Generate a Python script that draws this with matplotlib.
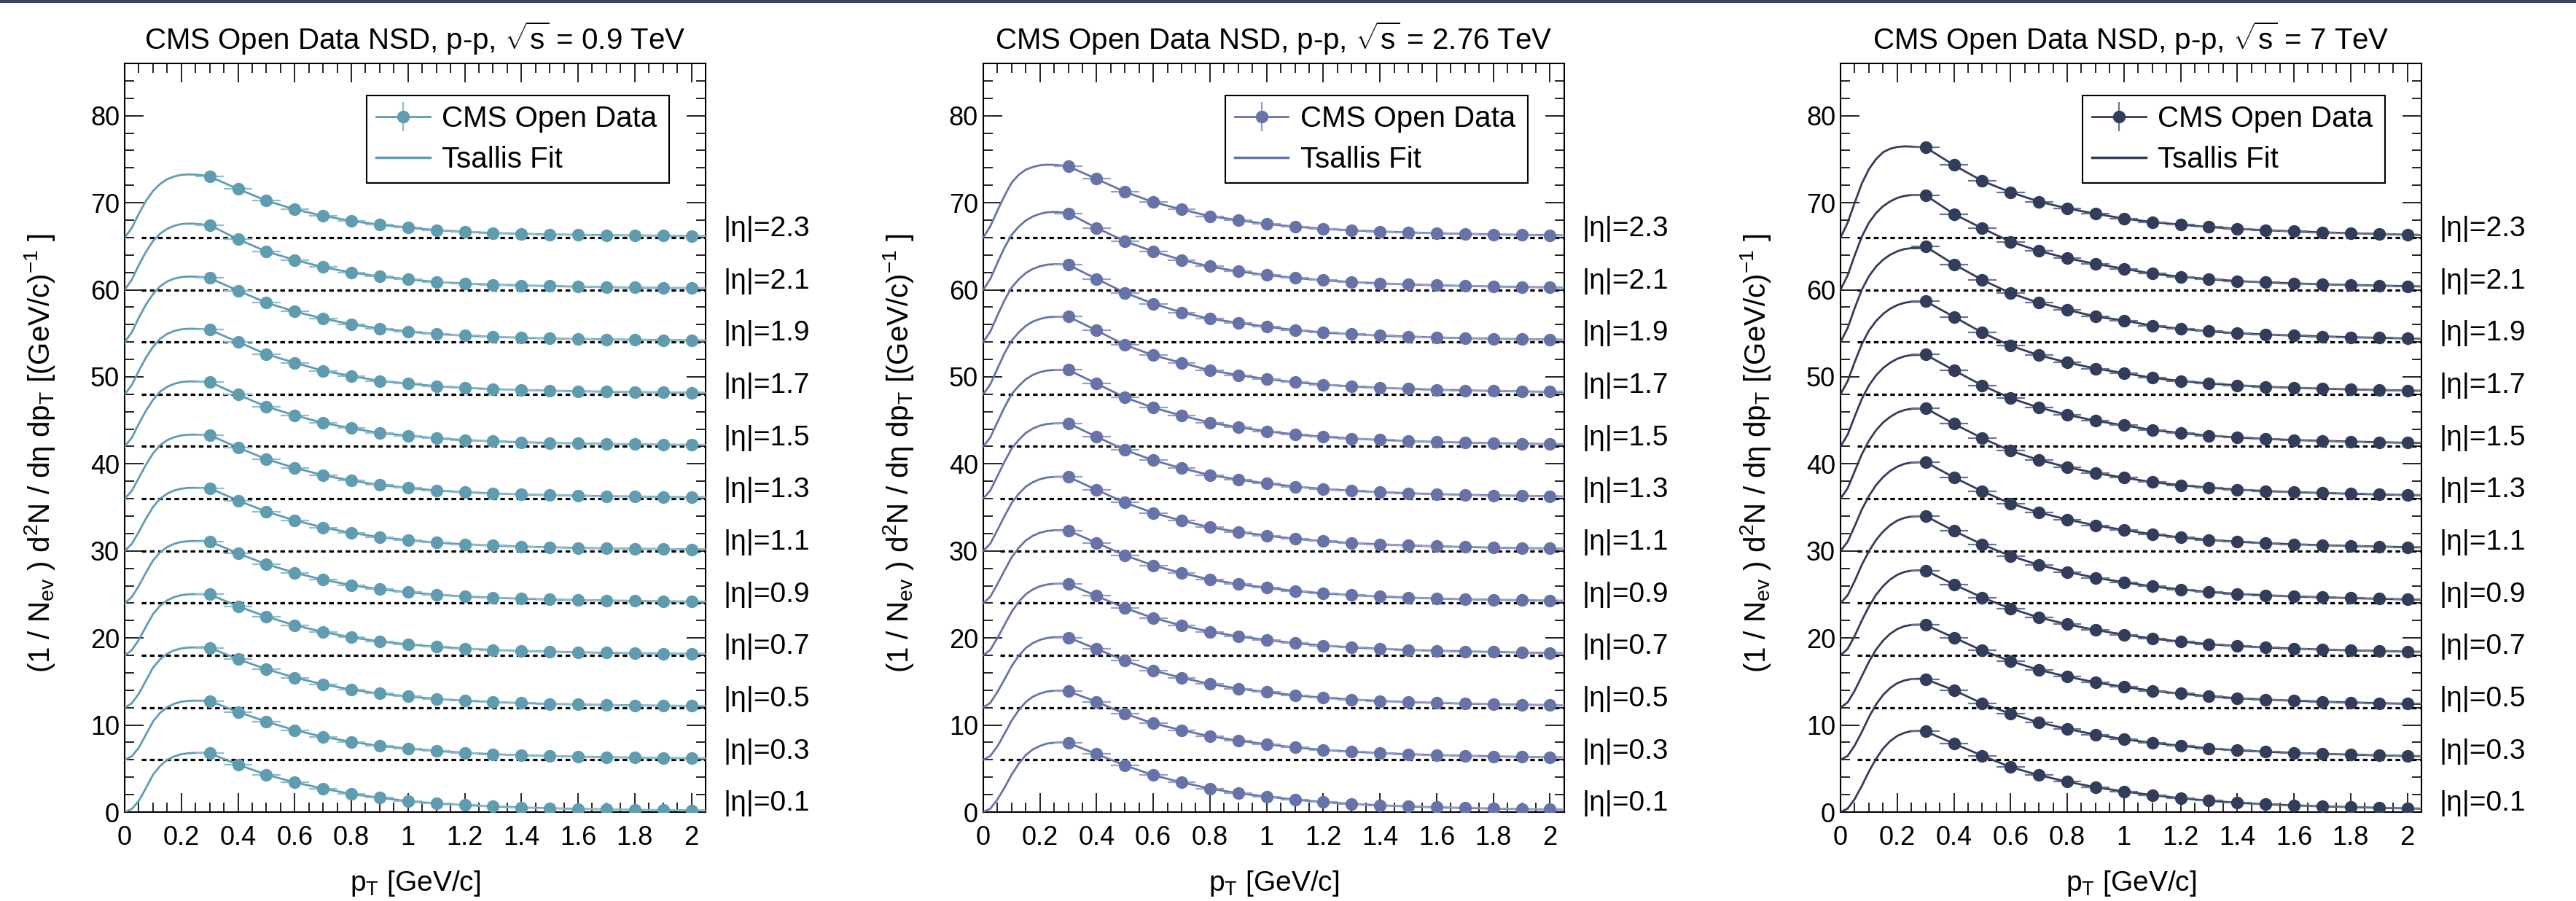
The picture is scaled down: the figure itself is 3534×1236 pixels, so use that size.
import matplotlib
matplotlib.use('Agg')
import matplotlib.pyplot as plt
import matplotlib.ticker as mticker
from matplotlib.lines import Line2D
from matplotlib.patches import Rectangle

plt.rcParams['font.family'] = ['Liberation Sans', 'DejaVu Sans']
plt.rcParams['mathtext.fontset'] = 'custom'
plt.rcParams['mathtext.rm'] = 'Liberation Sans'
plt.rcParams['mathtext.it'] = 'Liberation Sans:italic'
plt.rcParams['mathtext.bf'] = 'Liberation Sans:bold'

# measured pT bins (centres), half bin width
pt = [0.3, 0.4, 0.5, 0.6, 0.7, 0.8, 0.9, 1.0, 1.1, 1.2,
      1.3, 1.4, 1.5, 1.6, 1.7, 1.8, 1.9, 2.0]
pt_half = 0.05
# pT grid where the fit curve was read below the first bin
fit_pt_low = [0.0, 0.025, 0.05, 0.075, 0.1, 0.125, 0.15, 0.175, 0.2, 0.225, 0.25, 0.275]
fit_pt_end = 2.05

eta_labels = ['|η|=0.1', '|η|=0.3', '|η|=0.5', '|η|=0.7', '|η|=0.9', '|η|=1.1',
              '|η|=1.3', '|η|=1.5', '|η|=1.7', '|η|=1.9', '|η|=2.1', '|η|=2.3']
# vertical shift of each eta bin in the plot
offsets = [0, 6, 12, 18, 24, 30, 36, 42, 48, 54, 60, 66]

energies = ['0.9', '2.76', '7']
colors = ['#5f9cb0', '#6673a9', '#323c5b']
err_colors = ['#8fbccb', '#959ec8', '#6a7390']

# 0.9 TeV spectra, one row per eta bin
data_09 = [
    [6.76, 5.44, 4.30, 3.41, 2.71, 2.07, 1.65, 1.25, 1.00, 0.80, 0.65, 0.53, 0.44, 0.37, 0.31, 0.26, 0.22, 0.19],
    [6.76, 5.50, 4.39, 3.41, 2.65, 2.07, 1.60, 1.30, 1.02, 0.81, 0.65, 0.53, 0.44, 0.37, 0.31, 0.26, 0.22, 0.19],
    [6.88, 5.56, 4.42, 3.45, 2.68, 2.07, 1.61, 1.28, 1.00, 0.80, 0.64, 0.52, 0.43, 0.36, 0.30, 0.26, 0.22, 0.19],
    [7.00, 5.64, 4.45, 3.47, 2.69, 2.07, 1.61, 1.27, 0.98, 0.78, 0.63, 0.51, 0.43, 0.36, 0.30, 0.25, 0.21, 0.18],
    [7.10, 5.71, 4.48, 3.49, 2.70, 2.07, 1.60, 1.25, 0.97, 0.77, 0.62, 0.51, 0.42, 0.35, 0.30, 0.25, 0.21, 0.18],
    [7.20, 5.79, 4.51, 3.51, 2.70, 2.07, 1.59, 1.24, 0.95, 0.76, 0.61, 0.50, 0.42, 0.35, 0.29, 0.25, 0.21, 0.18],
    [7.30, 5.87, 4.54, 3.54, 2.70, 2.08, 1.57, 1.24, 0.94, 0.75, 0.60, 0.50, 0.41, 0.35, 0.29, 0.25, 0.21, 0.18],
    [7.40, 5.95, 4.58, 3.58, 2.71, 2.09, 1.55, 1.24, 0.93, 0.74, 0.59, 0.49, 0.41, 0.35, 0.29, 0.25, 0.21, 0.18],
    [7.40, 6.00, 4.60, 3.62, 2.70, 2.09, 1.53, 1.22, 0.93, 0.73, 0.59, 0.49, 0.41, 0.35, 0.29, 0.25, 0.21, 0.18],
    [7.34, 5.90, 4.52, 3.50, 2.70, 2.03, 1.55, 1.19, 0.92, 0.73, 0.59, 0.49, 0.41, 0.35, 0.30, 0.26, 0.22, 0.19],
    [7.42, 5.80, 4.40, 3.43, 2.60, 1.98, 1.53, 1.20, 0.90, 0.72, 0.58, 0.50, 0.42, 0.36, 0.30, 0.26, 0.22, 0.19],
    [7.00, 5.58, 4.24, 3.24, 2.50, 1.90, 1.48, 1.14, 0.85, 0.66, 0.52, 0.43, 0.36, 0.31, 0.27, 0.24, 0.21, 0.18],
]
fit_low_09 = [
    [0, 0.35, 1.30, 2.75, 4.30, 5.30, 6.00, 6.40, 6.65, 6.76, 6.80, 6.80],
    [0, 0.40, 1.40, 2.90, 4.40, 5.40, 6.05, 6.45, 6.68, 6.78, 6.80, 6.80],
    [0, 0.50, 1.60, 3.10, 4.60, 5.55, 6.20, 6.58, 6.80, 6.90, 6.92, 6.92],
    [0, 0.60, 1.80, 3.30, 4.75, 5.70, 6.32, 6.70, 6.92, 7.02, 7.04, 7.03],
    [0, 0.70, 2.00, 3.50, 4.90, 5.85, 6.45, 6.82, 7.03, 7.12, 7.14, 7.13],
    [0, 0.80, 2.20, 3.70, 5.05, 6.00, 6.58, 6.95, 7.15, 7.24, 7.25, 7.23],
    [0, 0.90, 2.40, 3.90, 5.20, 6.15, 6.72, 7.07, 7.27, 7.35, 7.36, 7.33],
    [0, 1.00, 2.60, 4.10, 5.35, 6.30, 6.86, 7.20, 7.40, 7.47, 7.47, 7.44],
    [0, 1.05, 2.70, 4.20, 5.45, 6.38, 6.93, 7.27, 7.46, 7.52, 7.51, 7.47],
    [0, 1.10, 2.80, 4.30, 5.50, 6.40, 6.95, 7.28, 7.46, 7.52, 7.50, 7.44],
    [0, 1.15, 2.85, 4.35, 5.60, 6.45, 7.00, 7.35, 7.55, 7.60, 7.58, 7.50],
    [0, 1.10, 2.75, 4.20, 5.35, 6.15, 6.70, 7.02, 7.20, 7.25, 7.23, 7.15],
]
fit_end_09 = [0.18, 0.18, 0.18, 0.17, 0.17, 0.17, 0.17, 0.17, 0.17, 0.18, 0.18, 0.17]

# 2.76 TeV spectra
data_276 = [
    [7.93, 6.67, 5.36, 4.24, 3.41, 2.71, 2.15, 1.79, 1.42, 1.15, 0.94, 0.78, 0.65, 0.55, 0.47, 0.40, 0.34, 0.30],
    [7.88, 6.67, 5.30, 4.19, 3.41, 2.71, 2.20, 1.80, 1.42, 1.15, 0.94, 0.78, 0.65, 0.55, 0.47, 0.40, 0.34, 0.30],
    [8.05, 6.75, 5.38, 4.25, 3.43, 2.72, 2.18, 1.78, 1.41, 1.14, 0.93, 0.77, 0.64, 0.54, 0.46, 0.39, 0.34, 0.29],
    [8.20, 6.83, 5.44, 4.29, 3.44, 2.72, 2.18, 1.77, 1.40, 1.13, 0.92, 0.76, 0.63, 0.54, 0.46, 0.39, 0.33, 0.29],
    [8.35, 6.92, 5.50, 4.33, 3.46, 2.72, 2.18, 1.77, 1.40, 1.13, 0.92, 0.76, 0.63, 0.53, 0.45, 0.39, 0.33, 0.29],
    [8.50, 7.02, 5.55, 4.37, 3.48, 2.72, 2.18, 1.76, 1.39, 1.12, 0.91, 0.75, 0.63, 0.53, 0.45, 0.38, 0.33, 0.29],
    [8.65, 7.12, 5.60, 4.41, 3.50, 2.72, 2.19, 1.76, 1.39, 1.12, 0.91, 0.75, 0.62, 0.53, 0.45, 0.38, 0.33, 0.28],
    [8.80, 7.22, 5.64, 4.45, 3.55, 2.74, 2.20, 1.75, 1.38, 1.11, 0.91, 0.75, 0.62, 0.52, 0.45, 0.38, 0.33, 0.28],
    [8.92, 7.33, 5.66, 4.48, 3.60, 2.75, 2.20, 1.75, 1.38, 1.11, 0.90, 0.74, 0.62, 0.52, 0.44, 0.38, 0.33, 0.28],
    [8.86, 7.25, 5.66, 4.40, 3.40, 2.67, 2.20, 1.75, 1.37, 1.10, 0.90, 0.74, 0.62, 0.52, 0.44, 0.38, 0.33, 0.28],
    [8.79, 7.10, 5.58, 4.40, 3.43, 2.68, 2.10, 1.70, 1.35, 1.09, 0.89, 0.73, 0.61, 0.52, 0.44, 0.38, 0.32, 0.28],
    [8.18, 6.73, 5.25, 4.07, 3.23, 2.45, 2.00, 1.56, 1.25, 1.01, 0.83, 0.69, 0.58, 0.49, 0.42, 0.36, 0.31, 0.27],
]
fit_low_276 = [
    [0, 0.40, 1.45, 2.80, 4.30, 5.55, 6.55, 7.20, 7.60, 7.87, 7.97, 8.00],
    [0, 0.45, 1.55, 3.00, 4.50, 5.70, 6.65, 7.25, 7.62, 7.85, 7.94, 7.95],
    [0, 0.55, 1.80, 3.25, 4.75, 5.95, 6.85, 7.42, 7.78, 8.00, 8.09, 8.10],
    [0, 0.65, 2.00, 3.50, 5.00, 6.15, 7.02, 7.58, 7.94, 8.14, 8.23, 8.24],
    [0, 0.75, 2.20, 3.75, 5.25, 6.35, 7.20, 7.74, 8.09, 8.29, 8.37, 8.38],
    [0, 0.85, 2.40, 4.00, 5.50, 6.55, 7.38, 7.90, 8.24, 8.43, 8.51, 8.52],
    [0, 0.95, 2.60, 4.25, 5.75, 6.75, 7.55, 8.06, 8.39, 8.58, 8.65, 8.66],
    [0, 1.05, 2.80, 4.50, 6.00, 6.95, 7.72, 8.22, 8.54, 8.72, 8.79, 8.80],
    [0, 1.15, 2.95, 4.70, 6.15, 7.10, 7.85, 8.35, 8.65, 8.83, 8.90, 8.91],
    [0, 1.20, 3.05, 4.80, 6.25, 7.20, 7.92, 8.40, 8.70, 8.88, 8.93, 8.92],
    [0, 1.25, 3.10, 4.85, 6.30, 7.25, 7.95, 8.42, 8.72, 8.90, 8.95, 8.90],
    [0, 1.30, 3.10, 4.80, 6.30, 7.20, 7.80, 8.10, 8.30, 8.37, 8.35, 8.28],
]
fit_end_276 = [0.28, 0.28, 0.27, 0.27, 0.27, 0.27, 0.26, 0.26, 0.26, 0.26, 0.26, 0.25]

# 7 TeV spectra
data_7 = [
    [9.27, 7.87, 6.48, 5.17, 4.24, 3.49, 2.85, 2.37, 1.95, 1.60, 1.30, 1.07, 0.90, 0.77, 0.66, 0.57, 0.49, 0.42],
    [9.27, 8.00, 6.48, 5.30, 4.30, 3.55, 2.90, 2.37, 1.95, 1.62, 1.31, 1.09, 0.93, 0.80, 0.69, 0.60, 0.52, 0.44],
    [9.50, 8.05, 6.56, 5.34, 4.33, 3.56, 2.90, 2.38, 1.94, 1.61, 1.30, 1.08, 0.92, 0.79, 0.68, 0.59, 0.51, 0.44],
    [9.75, 8.15, 6.65, 5.38, 4.36, 3.57, 2.91, 2.39, 1.93, 1.59, 1.29, 1.07, 0.91, 0.78, 0.67, 0.58, 0.51, 0.43],
    [10.00, 8.30, 6.75, 5.42, 4.39, 3.59, 2.92, 2.40, 1.92, 1.58, 1.28, 1.06, 0.90, 0.77, 0.67, 0.58, 0.50, 0.43],
    [10.20, 8.45, 6.85, 5.46, 4.42, 3.61, 2.93, 2.41, 1.91, 1.56, 1.27, 1.05, 0.89, 0.76, 0.66, 0.57, 0.50, 0.43],
    [10.40, 8.60, 6.95, 5.50, 4.45, 3.63, 2.94, 2.42, 1.90, 1.55, 1.26, 1.04, 0.88, 0.75, 0.65, 0.57, 0.49, 0.42],
    [10.55, 8.75, 7.02, 5.54, 4.47, 3.64, 2.95, 2.43, 1.89, 1.54, 1.25, 1.03, 0.87, 0.74, 0.65, 0.56, 0.49, 0.42],
    [10.68, 8.90, 7.08, 5.57, 4.48, 3.65, 2.95, 2.44, 1.88, 1.52, 1.24, 1.02, 0.86, 0.74, 0.64, 0.56, 0.48, 0.42],
    [10.96, 8.93, 7.14, 5.60, 4.50, 3.70, 2.92, 2.48, 1.87, 1.51, 1.23, 1.01, 0.86, 0.74, 0.64, 0.55, 0.48, 0.41],
    [10.85, 8.70, 7.06, 5.52, 4.46, 3.62, 2.97, 2.42, 1.85, 1.50, 1.22, 1.00, 0.85, 0.73, 0.63, 0.55, 0.48, 0.41],
    [10.35, 8.32, 6.50, 5.20, 4.13, 3.35, 2.73, 2.18, 1.78, 1.48, 1.21, 1.00, 0.84, 0.71, 0.59, 0.50, 0.41, 0.32],
]
fit_low_7 = [
    [0, 0.40, 1.50, 3.00, 4.65, 6.10, 7.30, 8.15, 8.75, 9.10, 9.30, 9.33],
    [0, 0.45, 1.65, 3.20, 4.90, 6.35, 7.45, 8.25, 8.80, 9.12, 9.28, 9.32],
    [0, 0.60, 1.95, 3.60, 5.25, 6.65, 7.70, 8.48, 9.02, 9.35, 9.50, 9.53],
    [0, 0.75, 2.25, 4.00, 5.60, 6.95, 7.95, 8.72, 9.25, 9.58, 9.73, 9.76],
    [0, 0.90, 2.55, 4.40, 5.95, 7.25, 8.22, 8.96, 9.48, 9.80, 9.95, 9.98],
    [0, 1.05, 2.85, 4.75, 6.30, 7.55, 8.48, 9.18, 9.68, 10.00, 10.15, 10.18],
    [0, 1.20, 3.15, 5.10, 6.65, 7.85, 8.75, 9.40, 9.88, 10.18, 10.33, 10.36],
    [0, 1.35, 3.45, 5.45, 7.00, 8.15, 9.00, 9.62, 10.07, 10.35, 10.50, 10.52],
    [0, 1.50, 3.70, 5.75, 7.30, 8.40, 9.22, 9.82, 10.24, 10.50, 10.63, 10.64],
    [0, 1.60, 3.90, 6.00, 7.55, 8.65, 9.45, 10.02, 10.42, 10.67, 10.78, 10.78],
    [0, 1.65, 3.95, 6.10, 7.70, 8.80, 9.60, 10.15, 10.55, 10.78, 10.88, 10.88],
    [0, 1.70, 4.00, 6.20, 7.85, 9.00, 9.80, 10.20, 10.40, 10.47, 10.45, 10.40],
]
fit_end_7 = [0.40, 0.42, 0.42, 0.41, 0.41, 0.41, 0.40, 0.40, 0.40, 0.39, 0.39, 0.29]

panels = [(data_09, fit_low_09, fit_end_09),
          (data_276, fit_low_276, fit_end_276),
          (data_7, fit_low_7, fit_end_7)]

fig = plt.figure(figsize=(35.34, 12.36), dpi=100)
fig.add_artist(Rectangle((0, 0.9965), 1, 0.0035, transform=fig.transFigure,
                         color='#3a4462', lw=0))

lefts = [0.0484, 0.3817, 0.7145]
ylab = (r'(1 / N$_{\mathrm{ev}}$ ) d$^{2}$N / dη dp$_{\mathrm{T}}$ '
        r'[(GeV/c)$^{-1}$ ]')

for i, (data, fit_low, fit_end) in enumerate(panels):
    ax = fig.add_axes([lefts[i], 0.0987, 0.2255, 0.8309])
    c = colors[i]
    for k in range(len(offsets)):
        off = offsets[k]
        yd = [v + off for v in data[k]]
        ax.errorbar(pt, yd, xerr=pt_half, fmt='o', ms=12.5, color=c, mew=0,
                    ecolor=err_colors[i], elinewidth=1.6, capsize=3.5,
                    capthick=1.6, zorder=4)
        fx = fit_pt_low + pt + [fit_pt_end]
        fy = [v + off for v in fit_low[k] + data[k] + [fit_end[k]]]
        ax.plot(fx, fy, color=c, lw=2, zorder=3)
        if off > 0:
            ax.hlines(off, 0.06, 2.05, colors='black', linestyles=(0, (2.0, 1.5)),
                      linewidth=2.3, zorder=2)
        ax.text(2.114, off + 0.15, eta_labels[k], fontsize=28, ha='left',
                va='baseline', clip_on=False)

    ax.set_xlim(0, 2.05)
    ax.set_ylim(0, 86)
    ax.xaxis.set_major_locator(mticker.MultipleLocator(0.2))
    ax.xaxis.set_minor_locator(mticker.MultipleLocator(0.05))
    ax.yaxis.set_major_locator(mticker.MultipleLocator(10))
    ax.yaxis.set_minor_locator(mticker.MultipleLocator(2))
    ax.xaxis.set_major_formatter(mticker.FuncFormatter(lambda v, p: f'{v:g}'))
    ax.tick_params(which='both', direction='in', top=True, right=True,
                   width=1.4, color='#222222', labelsize=26)
    ax.tick_params(which='major', length=19)
    ax.tick_params(which='minor', length=9.5)
    ax.tick_params(axis='x', pad=13)
    ax.tick_params(axis='y', pad=5)
    for s in ax.spines.values():
        s.set_linewidth(1.5)

    ax.text(0.5, 1.0185, 'CMS Open Data NSD, p-p, $\\sqrt{\\mathrm{s}}$ = %s TeV' % energies[i],
            transform=ax.transAxes, ha='center', va='baseline', fontsize=29)
    ax.text(0.5, -0.105, r'p$_{\mathrm{T}}$ [GeV/c]', transform=ax.transAxes,
            ha='center', va='baseline', fontsize=28)
    ax.text(-0.146, 0.48, ylab, transform=ax.transAxes, rotation=90,
            ha='center', va='center', fontsize=29)

    h_data = ax.errorbar([], [], yerr=[], fmt='o-', ms=12.5, color=c, mew=0,
                         lw=2, ecolor=err_colors[i], elinewidth=1.6,
                         capsize=5, capthick=1.6)
    h_fit = Line2D([], [], color=c, lw=2.5)
    leg = ax.legend([h_data, h_fit], ['CMS Open Data', 'Tsallis Fit'],
                    loc='upper left', bbox_to_anchor=(0.417, 0.957, 0.52, 0.0),
                    mode='expand', borderaxespad=0, fontsize=29, frameon=True,
                    fancybox=False, framealpha=1, edgecolor='black',
                    handlelength=1.82, handletextpad=0.41, borderpad=0.32,
                    labelspacing=0.45)
    leg.get_frame().set_linewidth(1.5)

fig.savefig('out.png', dpi=100, facecolor='white')
